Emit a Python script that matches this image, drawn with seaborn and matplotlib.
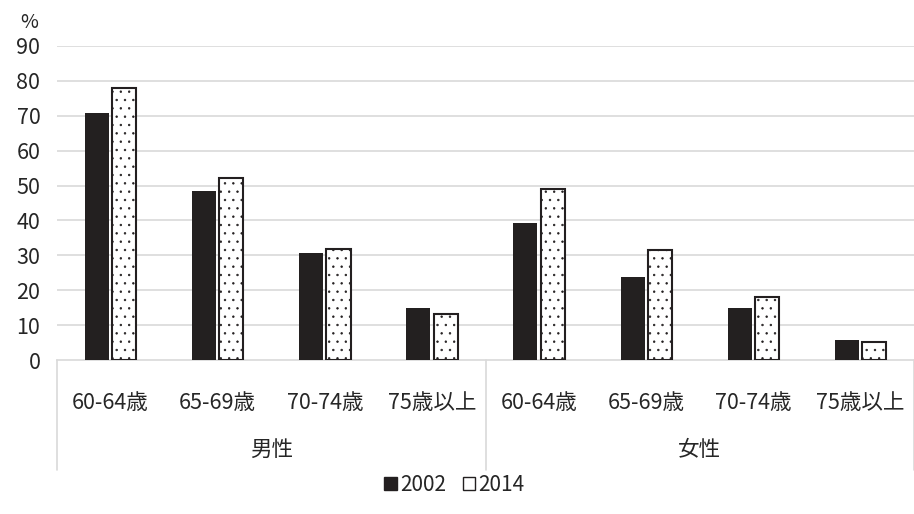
import seaborn as sns, matplotlib.pyplot as plt, pandas as pd
from matplotlib.patches import Patch
from matplotlib import transforms

# DATA
ages = ['60-64歳', '65-69歳', '70-74歳', '75歳以上']
sexes = ['男性', '女性']
years = ['2002', '2014']
v2002 = [70.7, 48.4, 30.6, 15.0, 39.3, 23.9, 15.0, 5.6]
v2014 = [77.9, 52.3, 31.9, 13.1, 48.9, 31.6, 18.1, 5.1]
yticks = [0, 10, 20, 30, 40, 50, 60, 70, 80, 90]

sns.set_style('white')
plt.rcParams['font.family'] = ['Noto Sans CJK JP', 'DejaVu Sans']
plt.rcParams['hatch.linewidth'] = 0.5

keys = [s + ' ' + a for s in sexes for a in ages]
df = pd.DataFrame({
    'key': keys * 2,
    'year': [years[0]] * 8 + [years[1]] * 8,
    'value': v2002 + v2014,
})

dark = '#231f20'
fig = plt.figure(figsize=(9.14, 5.14), dpi=100)
ax = fig.add_axes([0.0624, 0.2996, 0.9376, 0.611])
sns.barplot(data=df, x='key', y='value', hue='year', order=keys, hue_order=years,
            palette={'2002': dark, '2014': 'white'}, width=0.51, gap=0.12,
            legend=False, ax=ax, zorder=3)

# white bars: outline + dots
for bar in ax.containers[1]:
    bar.set_edgecolor(dark)
    bar.set_linewidth(1.5)
    bar.set_hatch('..')
for bar in ax.containers[0]:
    bar.set_linewidth(0)

ax.set_xlim(-0.5, 7.5)
ax.set_ylim(0, 90)
ax.set_yticks(yticks)
ax.set_yticklabels([str(t) for t in yticks], fontsize=15.5)
ax.set_xticks(range(8))
ax.set_xticklabels(ages * 2, fontsize=15.5)
ax.tick_params(axis='x', length=0, pad=23)
ax.tick_params(axis='y', length=0, pad=12)
ax.set_xlabel('')
ax.set_ylabel('')
for t in yticks[1:]:
    ax.axhline(t, color='#d9d9d9', lw=1.2, zorder=1)
for sp in ['top', 'right', 'left']:
    ax.spines[sp].set_visible(False)
ax.spines['bottom'].set_color('#d9d9d9')
ax.spines['bottom'].set_linewidth(1.2)

# group separators and labels
tr = transforms.blended_transform_factory(ax.transData, ax.transAxes)
for xs in [-0.5, 3.5, 7.5]:
    ax.plot([xs, xs], [0, -0.35], color='#d9d9d9', lw=1.2, transform=tr, clip_on=False)
for i, s in enumerate(sexes):
    ax.text(1.5 + 4 * i, -0.287, s, transform=tr, ha='center', va='center', fontsize=15.5)

fig.text(0.022, 0.957, '%', fontsize=14, ha='left', va='center')

handles = [Patch(facecolor=dark, edgecolor=dark, lw=1),
           Patch(facecolor='white', edgecolor=dark, lw=1)]
fig.legend(handles, years, loc='center', bbox_to_anchor=(0.497, 0.056), ncol=2,
           frameon=False, fontsize=15, handlelength=0.6, handleheight=0.6,
           handletextpad=0.15, columnspacing=0.8)

fig.savefig('out.png', dpi=100)
